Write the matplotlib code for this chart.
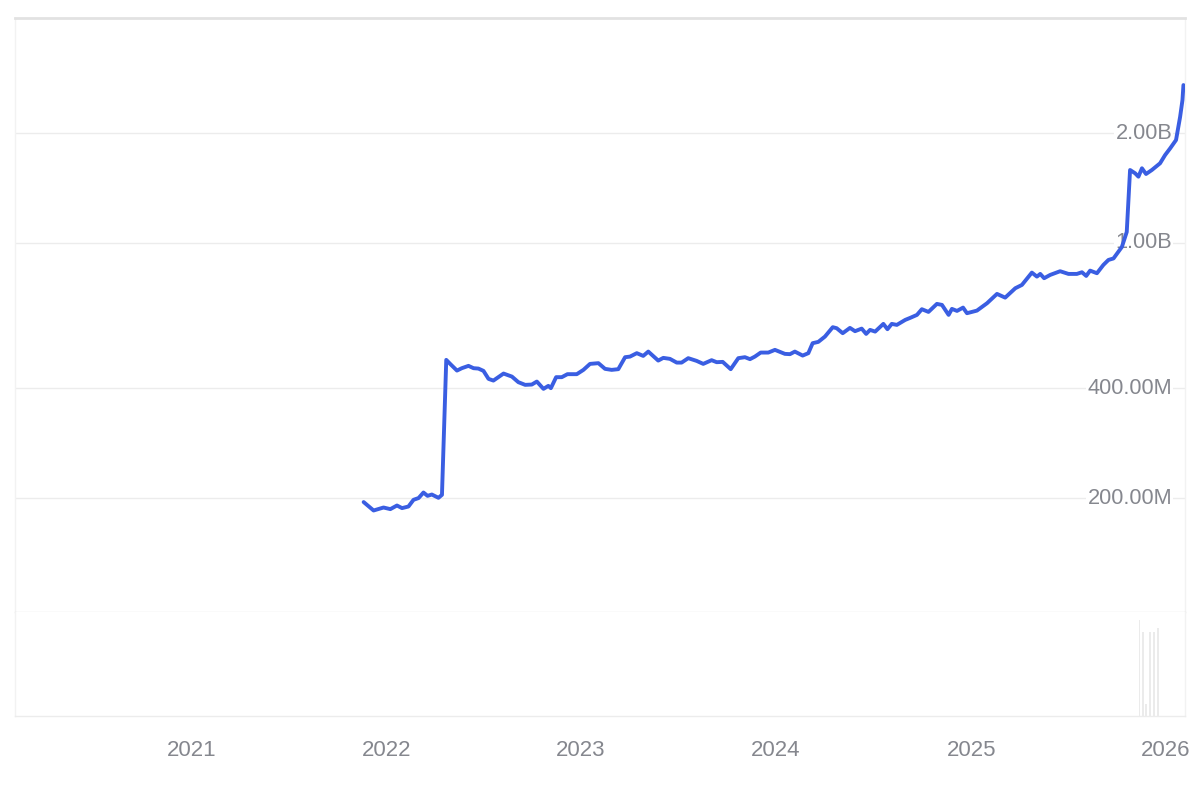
"""
plot.py

Log-scale price/market-cap style line chart with a small volume panel
underneath. Saves the figure to out.png.
"""

import datetime as dt

import matplotlib
matplotlib.use("Agg")
import matplotlib.pyplot as plt
import matplotlib.dates as mdates
import matplotlib.transforms as mtransforms
import numpy as np

# Series: decimal year -> value in millions
years = [
    2021.884, 2021.935, 2021.986, 2022.021, 2022.055, 2022.081, 2022.114, 2022.140,
    2022.166, 2022.191, 2022.212, 2022.234, 2022.268, 2022.286, 2022.308, 2022.328,
    2022.363, 2022.388, 2022.422, 2022.448, 2022.473, 2022.499, 2022.525, 2022.550,
    2022.602, 2022.645, 2022.678, 2022.713, 2022.747, 2022.773, 2022.807, 2022.832,
    2022.845, 2022.872, 2022.901, 2022.930, 2022.978, 2023.012, 2023.046, 2023.089,
    2023.123, 2023.157, 2023.191, 2023.226, 2023.251, 2023.286, 2023.319, 2023.345,
    2023.396, 2023.422, 2023.456, 2023.491, 2023.516, 2023.550, 2023.593, 2023.627,
    2023.670, 2023.696, 2023.727, 2023.768, 2023.807, 2023.841, 2023.867, 2023.892,
    2023.922, 2023.961, 2023.995, 2024.046, 2024.072, 2024.097, 2024.137, 2024.166,
    2024.188, 2024.217, 2024.251, 2024.291, 2024.311, 2024.342, 2024.379, 2024.405,
    2024.439, 2024.462, 2024.482, 2024.508, 2024.550, 2024.571, 2024.593, 2024.619,
    2024.662, 2024.687, 2024.722, 2024.747, 2024.781, 2024.824, 2024.850, 2024.884,
    2024.901, 2024.927, 2024.958, 2024.978, 2025.029, 2025.081, 2025.132, 2025.174,
    2025.226, 2025.260, 2025.311, 2025.337, 2025.354, 2025.374, 2025.405, 2025.456,
    2025.499, 2025.542, 2025.568, 2025.590, 2025.610, 2025.645, 2025.678, 2025.704,
    2025.730, 2025.773, 2025.798, 2025.815, 2025.841, 2025.858, 2025.876, 2025.897,
    2025.927, 2025.969, 2025.995, 2026.021, 2026.051, 2026.072, 2026.084, 2026.089,
]
values_m = [
    195.2, 185.1, 188.6, 186.7, 191.0, 187.9, 189.8, 198.0,
    200.2, 207.3, 203.0, 204.7, 200.5, 204.3, 478.4, 466.5,
    447.2, 454.0, 460.7, 454.0, 452.9, 446.4, 424.4, 419.9,
    438.9, 430.6, 415.7, 408.7, 409.5, 417.3, 398.5, 406.1,
    400.3, 429.0, 429.0, 437.2, 437.2, 449.2, 466.5, 468.6,
    452.1, 449.2, 451.2, 486.6, 488.4, 499.1, 490.6, 504.1,
    476.3, 484.5, 481.5, 470.3, 470.3, 483.6, 475.4, 466.5,
    477.5, 471.5, 472.4, 451.2, 483.6, 486.6, 480.6, 488.4,
    501.0, 501.0, 509.6, 496.9, 496.0, 504.1, 491.6, 499.1,
    531.5, 535.9, 554.1, 587.9, 584.2, 566.1, 585.3, 573.3,
    582.7, 563.6, 578.0, 571.8, 600.3, 580.5, 600.3, 596.5,
    615.6, 623.4, 635.3, 658.5, 647.4, 680.9, 676.6, 635.3,
    659.8, 651.5, 665.2, 642.1, 652.7, 683.9, 725.2, 708.4,
    751.6, 767.5, 829.4, 808.7, 822.6, 800.6, 817.4, 836.7,
    822.6, 822.6, 831.4, 812.3, 839.9, 826.2, 870.6, 898.4,
    906.9, 975.1, 1071.8, 1584.0, 1551.5, 1518.6, 1601.1, 1544.7,
    1584.0, 1652.4, 1741.0, 1816.0, 1913.6, 2216.0, 2462.0, 2706.0,
]

# Volume panel (only a handful of recent bars are visible)
vol_years = [2025.863, 2025.880, 2025.897, 2025.918, 2025.938, 2025.959]
vol_values = [0.92, 0.81, 0.12, 0.81, 0.81, 0.85]

# Axis ticks
ytick_values = [200e6, 400e6, 1e9, 2e9]
ytick_labels = ["200.00M", "400.00M", "1.00B", "2.00B"]
xtick_years = [2021, 2022, 2023, 2024, 2025, 2026]

LINE_COLOR = "#3a5ee2"
TEXT_COLOR = "#85878e"
GRID_COLOR = "#ececec"


def to_dates(decimal_years):
    """Convert decimal years into datetime objects."""
    out = []
    for y in decimal_years:
        year = int(np.floor(y))
        start = dt.datetime(year, 1, 1)
        end = dt.datetime(year + 1, 1, 1)
        out.append(start + (end - start) * (y - year))
    return out


def main():
    plt.rcParams["font.family"] = ["Liberation Sans", "DejaVu Sans"]

    fig = plt.figure(figsize=(12, 8), dpi=100, facecolor="white")
    ax = fig.add_axes([0.0125, 0.235, 0.975, 0.7425])
    ax_vol = fig.add_axes([0.0125, 0.105, 0.975, 0.13], sharex=ax)

    dates = to_dates(years)
    values = np.array(values_m) * 1e6

    # Main line
    ax.plot(dates, values, color=LINE_COLOR, linewidth=2.8, zorder=3,
            solid_joinstyle="round", solid_capstyle="round")
    ax.set_yscale("log")
    ax.set_ylim(97.6e6, 4.13e9)
    ax.set_xlim(to_dates([2020.097])[0], to_dates([2026.097])[0])

    for v in ytick_values:
        ax.axhline(v, color=GRID_COLOR, linewidth=1.0, zorder=1)

    # Labels sit inside the plot, right aligned, on top of the gridlines
    trans = mtransforms.blended_transform_factory(ax.transAxes, ax.transData)
    for v, lab in zip(ytick_values, ytick_labels):
        ax.text(0.989, v, lab, transform=trans, ha="right", va="center",
                fontsize=15.7, color=TEXT_COLOR, zorder=2,
                bbox=dict(facecolor="white", edgecolor="none", pad=1.0))

    ax.set_yticks([])
    ax.minorticks_off()
    ax.tick_params(axis="x", which="both", bottom=False, labelbottom=False)

    for name, sp in ax.spines.items():
        sp.set_color("#e6e6e6")
        sp.set_linewidth(1.0)
    ax.spines["top"].set_linewidth(2.0)
    ax.spines["top"].set_color("#e2e2e2")
    ax.spines["left"].set_color("#f2f2f2")
    ax.spines["right"].set_color("#f2f2f2")

    # Volume bars
    ax_vol.bar(to_dates(vol_years), vol_values, width=3.0, color="#ebebeb",
               linewidth=0)
    ax_vol.set_ylim(0, 1.0)
    ax_vol.set_yticks([])
    for name, sp in ax_vol.spines.items():
        sp.set_color("#f2f2f2")
        sp.set_linewidth(1.0)
    ax_vol.spines["top"].set_visible(False)
    ax_vol.spines["bottom"].set_color("#ececec")

    ax_vol.set_xticks([dt.datetime(y, 1, 1) for y in xtick_years])
    ax_vol.xaxis.set_major_formatter(mdates.DateFormatter("%Y"))
    ax_vol.tick_params(axis="x", length=0, pad=17, labelsize=16,
                       labelcolor=TEXT_COLOR)

    fig.savefig("out.png", dpi=100, facecolor="white")
    plt.close(fig)


if __name__ == "__main__":
    main()
